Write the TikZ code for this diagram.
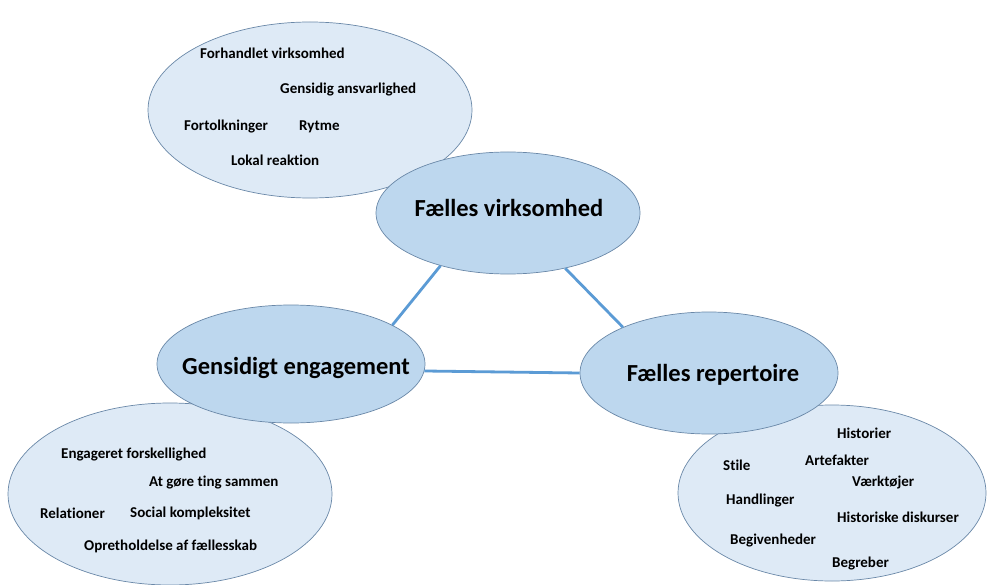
\documentclass[tikz,border=0pt]{standalone}
\usepackage{fontspec}
\setmainfont{Carlito}[Ligatures=NoCommon]
\usetikzlibrary{shapes.geometric}
\definecolor{smallfill}{HTML}{DEEAF6}
\definecolor{bigfill}{HTML}{BDD7EE}
\definecolor{edgecol}{HTML}{6A88A8}
\definecolor{linkcol}{HTML}{5B9BD5}
\begin{document}
\begin{tikzpicture}[x=1pt,y=-1pt,
  smallell/.style={ellipse,draw=edgecol,line width=0.7pt,fill=smallfill,inner sep=0pt},
  bigell/.style={ellipse,draw=edgecol,line width=0.7pt,fill=bigfill,inner sep=0pt},
  biglabel/.style={inner sep=0pt,font=\bfseries\fontsize{24.5}{29}\selectfont},
  item/.style={anchor=west,inner sep=0pt,font=\bfseries\fontsize{15}{18}\selectfont},
  link/.style={draw=linkcol,line width=2.8pt}]
\useasboundingbox (0,0) rectangle (987,585);
\fill[white] (0,0) rectangle (987,585);
% small ellipses
\node[smallell,minimum width=324pt,minimum height=176pt] (st) at (310,110) {};
\node[smallell,minimum width=324pt,minimum height=182pt] (sl) at (170,494) {};
\node[smallell,minimum width=308pt,minimum height=176pt] (sr) at (832,493) {};
% big ellipses
\node[bigell,minimum width=264pt,minimum height=122pt] (fv) at (508,213) {};
\node[bigell,minimum width=268pt,minimum height=118pt] (ge) at (291,364) {};
\node[bigell,minimum width=258pt,minimum height=122pt] (fr) at (709,373) {};
\node[biglabel] (fvl) at (509,208) {Fælles virksomhed};
\node[biglabel] (gel) at (296,368) {Gensidigt engagement};
\node[biglabel] (frl) at (713,375) {Fælles repertoire};
% links
\draw[link] (fv.218) -- (ge.21);
\draw[link] (fv.-44) -- (fr.152);
\draw[link] (ge.-3) -- (fr.180);
% top items
\node[item] (t1) at (200,53) {Forhandlet virksomhed};
\node[item] (t2) at (280,90) {Gensidig ansvarlighed};
\node[item] (t3) at (184,127) {Fortolkninger};
\node[item] (t4) at (299,127) {Rytme};
\node[item] (t5) at (231,160) {Lokal reaktion};
% bottom left items
\node[item] (l1) at (61,455) {Engageret forskellighed};
\node[item] (l2) at (149,483) {At gøre ting sammen};
\node[item] (l3) at (40,513) {Relationer};
\node[item] (l4) at (130,513) {Social kompleksitet};
\node[item] (l5) at (84,546) {Opretholdelse af fællesskab};
% bottom right items
\node[item] (r1) at (837,433) {Historier};
\node[item] (r2) at (723,465) {Stile};
\node[item] (r3) at (805,460) {Artefakter};
\node[item] (r4) at (852,483) {Værktøjer};
\node[item] (r5) at (726,501) {Handlinger};
\node[item] (r6) at (837,517) {Historiske diskurser};
\node[item] (r7) at (730,541) {Begivenheder};
\node[item] (r8) at (832,564) {Begreber};
\end{tikzpicture}
\end{document}
